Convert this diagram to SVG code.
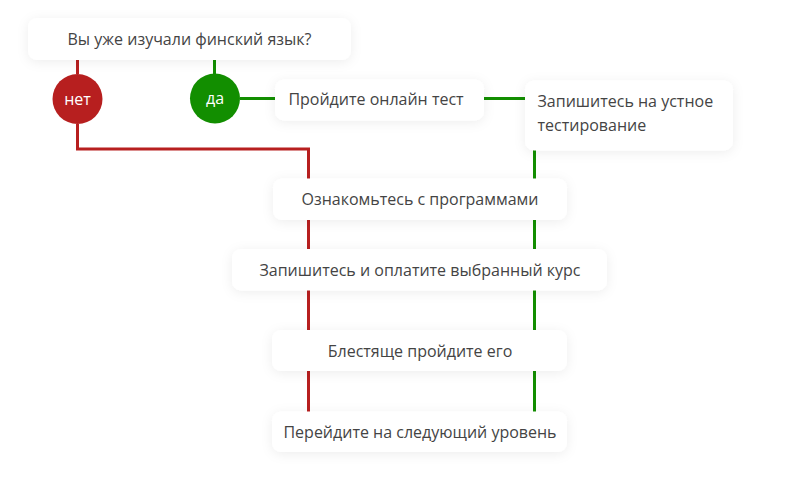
<svg xmlns="http://www.w3.org/2000/svg" width="800" height="477" viewBox="0 0 800 477">
<defs>
<filter id="sh" x="-20%" y="-50%" width="140%" height="200%">
<feDropShadow dx="0" dy="2" stdDeviation="6" flood-color="#000" flood-opacity="0.07"/>
</filter>
<style>
.box{fill:#fff;filter:url(#sh)}
.t{font-family:"Open Sans","Noto Sans","DejaVu Sans",sans-serif;font-size:16px;fill:#444;text-anchor:middle}
.tl{text-anchor:start}
.w{fill:#fff}
.red{stroke:#B71F1F;stroke-width:3;fill:none}
.green{stroke:#128E00;stroke-width:3;fill:none}
</style>
</defs>
<rect width="800" height="477" fill="#fff"/>
<g id="connectors">
<path class="red" d="M77.5 60V74M77.5 124V149H308.5V179M308.5 219V250M308.5 290V331M308.5 371V412"/>
<path class="green" d="M214.5 60V74M240 98.5H276M484 98.5H526M534.5 150V179M534.5 219V250M534.5 290V331M534.5 371V412"/>
</g>
<g id="q">
<rect class="box" x="28" y="18" width="323" height="42" rx="9"/>
<text class="t" x="189.5" y="45">Вы уже изучали финский язык?</text>
</g>
<g id="no">
<circle cx="77.5" cy="99" r="25" fill="#B71F1F"/>
<text class="t w" x="77.5" y="104.5">нет</text>
</g>
<g id="yes">
<circle cx="215" cy="98.5" r="25" fill="#128E00"/>
<text class="t w" x="215" y="104">да</text>
</g>
<g id="online">
<rect class="box" x="275" y="79.5" width="209" height="41" rx="9"/>
<text class="t" x="376" y="105">Пройдите онлайн тест</text>
</g>
<g id="oral">
<rect class="box" x="525" y="80.5" width="208" height="70" rx="9"/>
<text class="t tl" x="537.5" y="107">Запишитесь на устное</text>
<text class="t tl" x="537.5" y="131">тестирование</text>
</g>
<g id="programs">
<rect class="box" x="273" y="178.5" width="294" height="41.5" rx="9"/>
<text class="t" x="420" y="205">Ознакомьтесь с программами</text>
</g>
<g id="enroll">
<rect class="box" x="232" y="249" width="375" height="41.5" rx="9"/>
<text class="t" x="420" y="276">Запишитесь и оплатите выбранный курс</text>
</g>
<g id="pass">
<rect class="box" x="272" y="330" width="295" height="41" rx="9"/>
<text class="t" x="420" y="357">Блестяще пройдите его</text>
</g>
<g id="next">
<rect class="box" x="272" y="411.5" width="295" height="40.5" rx="9"/>
<text class="t" x="420" y="438">Перейдите на следующий уровень</text>
</g>
</svg>
